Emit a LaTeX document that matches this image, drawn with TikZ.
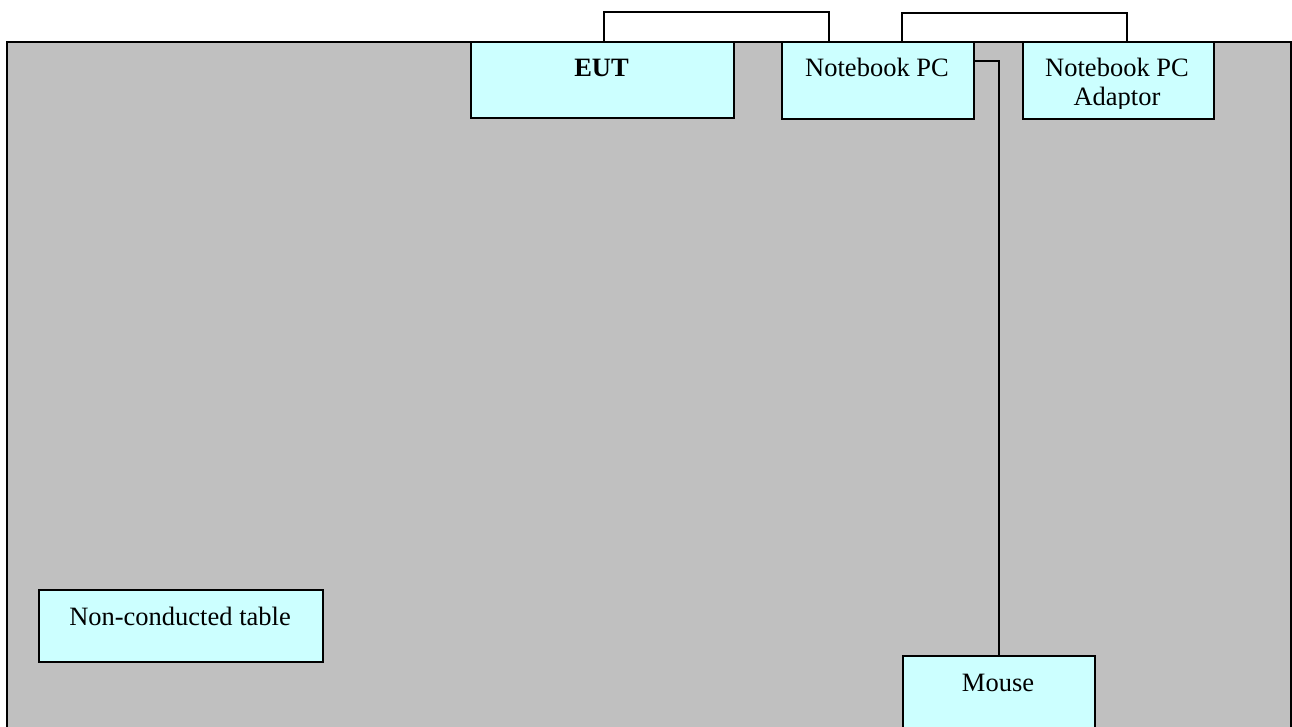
\documentclass[tikz,border=0pt]{standalone}
\usepackage{fontspec}
\setmainfont{Liberation Serif}
\definecolor{tablegray}{HTML}{C0C0C0}
\definecolor{boxcyan}{HTML}{CCFFFF}
\tikzset{
  box/.style={draw=black, line width=1.6pt, fill=boxcyan, inner sep=0pt, anchor=north west},
  txt/.style={inner sep=0pt, anchor=base, font=\fontsize{26.5}{30}\selectfont, align=center},
  wire/.style={draw=black, line width=1.5pt}
}
\begin{document}
\begin{tikzpicture}[x=1pt,y=-1pt]
\clip (0,0) rectangle (1292,727);
% table area
\node[draw=black, line width=1.6pt, fill=tablegray, inner sep=0pt, anchor=north west,
      minimum width=1284pt, minimum height=720pt] (table) at (6,41) {};
% boxes
\node[box, minimum width=263pt, minimum height=76pt] (eut) at (470,41) {};
\node[box, minimum width=192pt, minimum height=77pt] (nb) at (781,41) {};
\node[box, minimum width=191pt, minimum height=77pt] (ad) at (1022,41) {};
\node[box, minimum width=192pt, minimum height=90pt] (mouse) at (902,655) {};
\node[box, minimum width=284pt, minimum height=72pt] (nct) at (38,589) {};
% texts
\node[txt] (teut) at (601.5,77) {\textbf{EUT}};
\node[txt] (tnb) at (877,77) {Notebook PC};
\begin{scope}
\clip (ad.north west) rectangle (1213,108.5);
\node[txt] (tad1) at (1117,77) {Notebook PC};
\node[txt] (tad2) at (1117,106) {Adaptor};
\end{scope}
\node[txt] (tmouse) at (998,691) {Mouse};
\node[txt] (tnct) at (180,625) {Non-conducted table};
% wires
\coordinate (w1a) at (604,12);
\coordinate (w1b) at (829,12);
\draw[wire] (eut.north west -| w1a) -- (w1a) -- (w1b) -- (nb.north west -| w1b);
\coordinate (w2a) at (902,13);
\coordinate (w2b) at (1127,13);
\draw[wire] (nb.north west -| w2a) -- (w2a) -- (w2b) -- (ad.north west -| w2b);
\coordinate (w3) at (999,61);
\draw[wire] (nb.east |- w3) -- (w3) -- (mouse.north -| w3);
\end{tikzpicture}
\end{document}
